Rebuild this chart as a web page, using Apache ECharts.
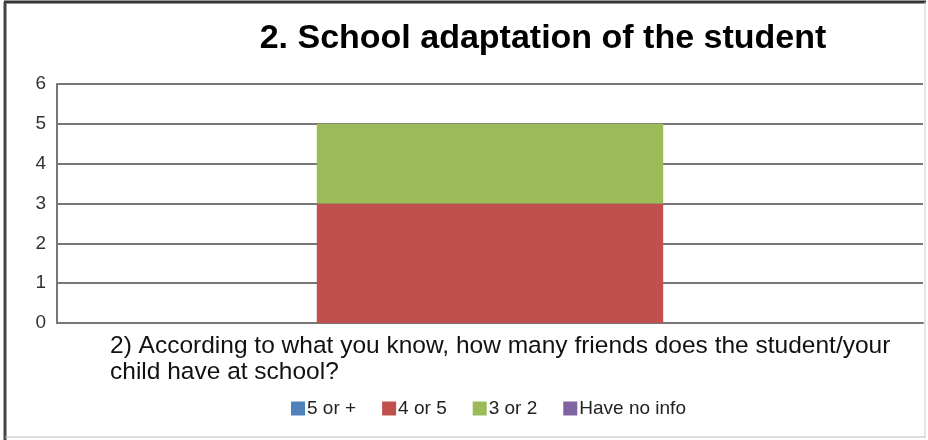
<!DOCTYPE html>
<html><head><meta charset="utf-8">
<script src="https://cdn.jsdelivr.net/npm/echarts@6/dist/echarts.min.js"></script>
<style>html,body{margin:0;padding:0;background:#fff}#c{width:928px;height:440px}</style>
</head><body><div id="c"></div>
<script>
const titleText = '2. School adaptation of the student';
const categories = ['2) According to what you know, how many friends does the student/your\nchild have at school?'];
const seriesNames = ['5 or +', '4 or 5', '3 or 2', 'Have no info'];
const values5orMore = [0];
const values4or5 = [3];
const values3or2 = [2];
const valuesNoInfo = [0];
const yTicks = [0, 1, 2, 3, 4, 5, 6];
const colors = ['#4F81BD', '#C0504D', '#9BBB59', '#8064A2'];
const font = '"Liberation Sans", Arial, sans-serif';

const chart = echarts.init(document.getElementById('c'));
const dataSets = [values5orMore, values4or5, values3or2, valuesNoInfo];
chart.setOption({
  animation: false,
  title: {
    text: titleText, left: 538, top: 17, textAlign: 'center',
    textStyle: { fontFamily: font, fontWeight: 'bold', fontSize: 34, color: '#000' }
  },
  legend: {
    data: seriesNames, left: 286, top: 394, itemWidth: 14, itemHeight: 14, itemGap: 26,
    icon: 'rect',
    textStyle: { fontFamily: font, fontSize: 19, color: '#222', padding: [0, 0, 0, -3] }
  },
  grid: { left: 57, right: 5, top: 84, bottom: 117, containLabel: false },
  xAxis: {
    type: 'category', data: categories,
    axisLine: { show: true, lineStyle: { color: '#777', width: 2 } },
    axisTick: { show: false }, axisLabel: { show: false }
  },
  yAxis: {
    type: 'value', min: yTicks[0], max: yTicks[yTicks.length - 1], interval: 1,
    axisLine: { show: true, lineStyle: { color: '#777', width: 2 } },
    axisTick: { show: false },
    axisLabel: { fontFamily: font, fontSize: 19, color: '#333', margin: 11 },
    splitLine: { lineStyle: { color: '#777', width: 2 } }
  },
  series: seriesNames.map((n, i) => ({
    name: n, type: 'bar', stack: 'total', data: dataSets[i], barWidth: '40%',
    itemStyle: { color: colors[i] }
  })),
  graphic: [
    { type: 'text', left: 110, top: 333, style: { text: categories[0], fontFamily: font, fontSize: 24.5, lineHeight: 26, fill: '#111' } },
    { type: 'line', shape: { x1: 4, y1: 2, x2: 926, y2: 2 }, style: { stroke: '#333', lineWidth: 3 } },
    { type: 'line', shape: { x1: 5, y1: 2, x2: 5, y2: 440 }, style: { stroke: '#444', lineWidth: 3 } },
    { type: 'line', shape: { x1: 925, y1: 2, x2: 925, y2: 438 }, style: { stroke: '#ccc', lineWidth: 1 } },
    { type: 'line', shape: { x1: 5, y1: 437, x2: 925, y2: 437 }, style: { stroke: '#bbb', lineWidth: 1 } }
  ]
});
</script></body></html>
